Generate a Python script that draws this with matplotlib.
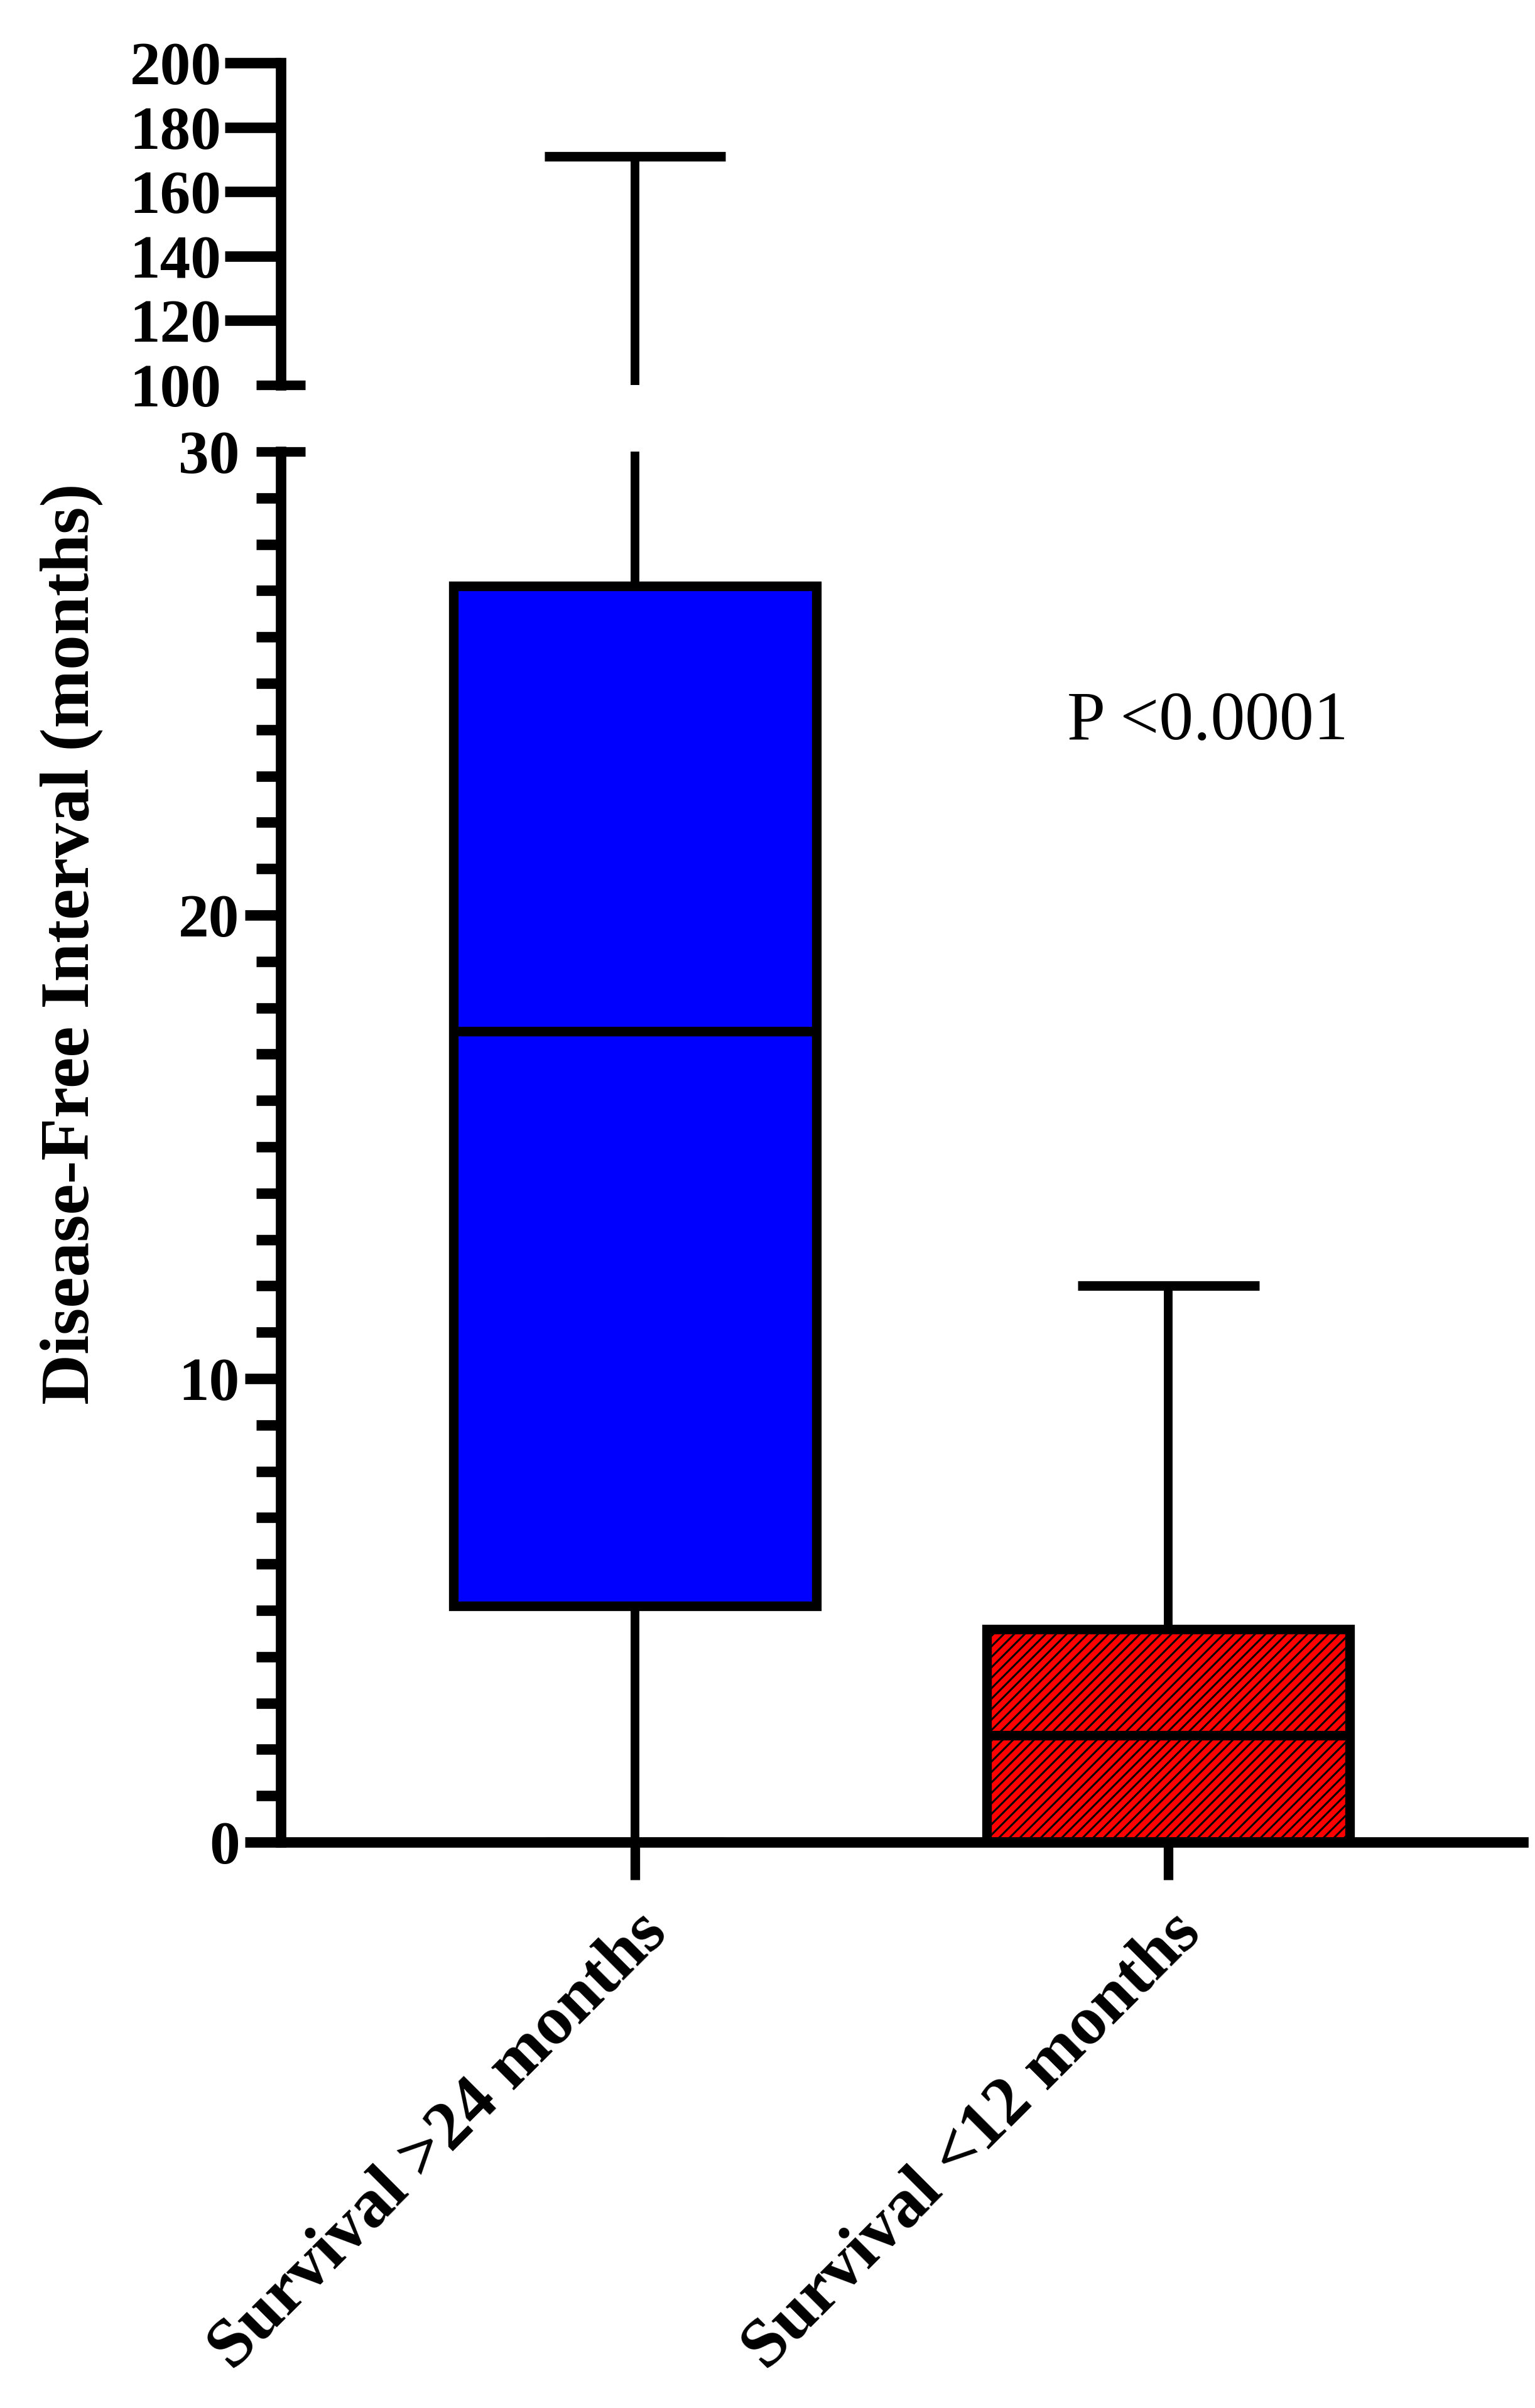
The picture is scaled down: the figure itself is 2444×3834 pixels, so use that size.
import numpy as np
import matplotlib
matplotlib.use("Agg")
import matplotlib.pyplot as plt

plt.rcParams['font.family'] = ['Liberation Serif', 'DejaVu Serif']
plt.rcParams['hatch.linewidth'] = 2.2
plt.rcParams['hatch.color'] = 'black'

# data (months)
groups = ['Survival >24 months', 'Survival <12 months']
whis_lo = [0.0, 0.0]
q1 = [5.1, 0.0]
median = [17.5, 2.3]
q3 = [27.1, 4.6]
whis_hi = [171.0, 12.0]
fills = ['#0000ff', '#ff0000']
hatches = [None, '//']

top_ticks = [100, 120, 140, 160, 180, 200]
bot_ticks = [0, 10, 20, 30]
p_text = 'P <0.0001'

stats = []
for i in range(len(groups)):
    stats.append({'label': groups[i], 'whislo': whis_lo[i], 'q1': q1[i],
                  'med': median[i], 'q3': q3[i], 'whishi': whis_hi[i],
                  'fliers': []})

W, H = 2444, 3834
fig = plt.figure(figsize=(W / 100, H / 100), dpi=100)
left, right = 447 / W, 2425 / W
ax_top = fig.add_axes([left, 1 - 613 / H, right - left, (613 - 100) / H])
ax_bot = fig.add_axes([left, 1 - 2933 / H, right - left, (2933 - 719) / H])

pos = np.arange(1, len(groups) + 1)
lw = 11
for ax in (ax_top, ax_bot):
    res = ax.bxp(stats, positions=pos, widths=0.68, capwidths=0.34,
                 patch_artist=True, showfliers=False,
                 boxprops=dict(linewidth=lw, edgecolor='black'),
                 whiskerprops=dict(linewidth=10, color='black', solid_capstyle='butt'),
                 capprops=dict(linewidth=lw, color='black', solid_capstyle='butt'),
                 medianprops=dict(linewidth=lw, color='black', solid_capstyle='butt'))
    for b, c, h in zip(res['boxes'], fills, hatches):
        b.set_facecolor(c)
        if h:
            b.set_hatch(h)
    ax.set_xlim(0.336, 2.665)
    for s in ['top', 'right']:
        ax.spines[s].set_visible(False)
    ax.spines['left'].set_linewidth(12)
    ax.spines['bottom'].set_linewidth(12)

# top part of broken axis
ax_top.set_ylim(100, 200)
ax_top.spines['bottom'].set_visible(False)
ax_top.set_xticks([])
ax_top.set_yticks(top_ticks)
ax_top.set_yticklabels([str(t) for t in top_ticks])
ax_top.tick_params(axis='y', length=64, width=12, labelsize=70, pad=4)
for lab in ax_top.get_yticklabels():
    lab.set_fontweight('bold')
ax_top.yaxis.get_major_ticks()[0].tick1line.set_visible(False)
ax_top.plot([-0.0195, 0.0195], [100, 100], transform=ax_top.get_yaxis_transform(),
            color='black', lw=lw, clip_on=False, solid_capstyle='butt')

# bottom part
ax_bot.set_ylim(0, 30)
ax_bot.set_yticks(bot_ticks)
ax_bot.set_yticklabels([str(t) for t in bot_ticks])
ax_bot.set_yticks([v for v in range(1, 30) if v % 10], minor=True)
ax_bot.tick_params(axis='y', which='major', length=41, width=12, labelsize=70, pad=6)
ax_bot.tick_params(axis='y', which='minor', length=28, width=12)
for lab in ax_bot.get_yticklabels():
    lab.set_fontweight('bold')
ax_bot.yaxis.get_major_ticks()[-1].tick1line.set_visible(False)
ax_bot.plot([-0.0195, 0.0195], [30, 30], transform=ax_bot.get_yaxis_transform(),
            color='black', lw=lw, clip_on=False, solid_capstyle='butt')

ax_bot.set_xticks(pos)
ax_bot.set_xticklabels(groups, rotation=45, ha='right', rotation_mode='anchor',
                       fontsize=80, fontweight='bold')
ax_bot.tick_params(axis='x', length=43, width=11, pad=24)

ax_bot.text(1.81, 23.8, p_text, fontsize=79, va='baseline', ha='left')

fig.text(0.0466, 0.608, 'Disease-Free Interval (months)', rotation=90,
         ha='center', va='center', fontsize=80, fontweight='bold')

fig.savefig('out.png', dpi=100)
